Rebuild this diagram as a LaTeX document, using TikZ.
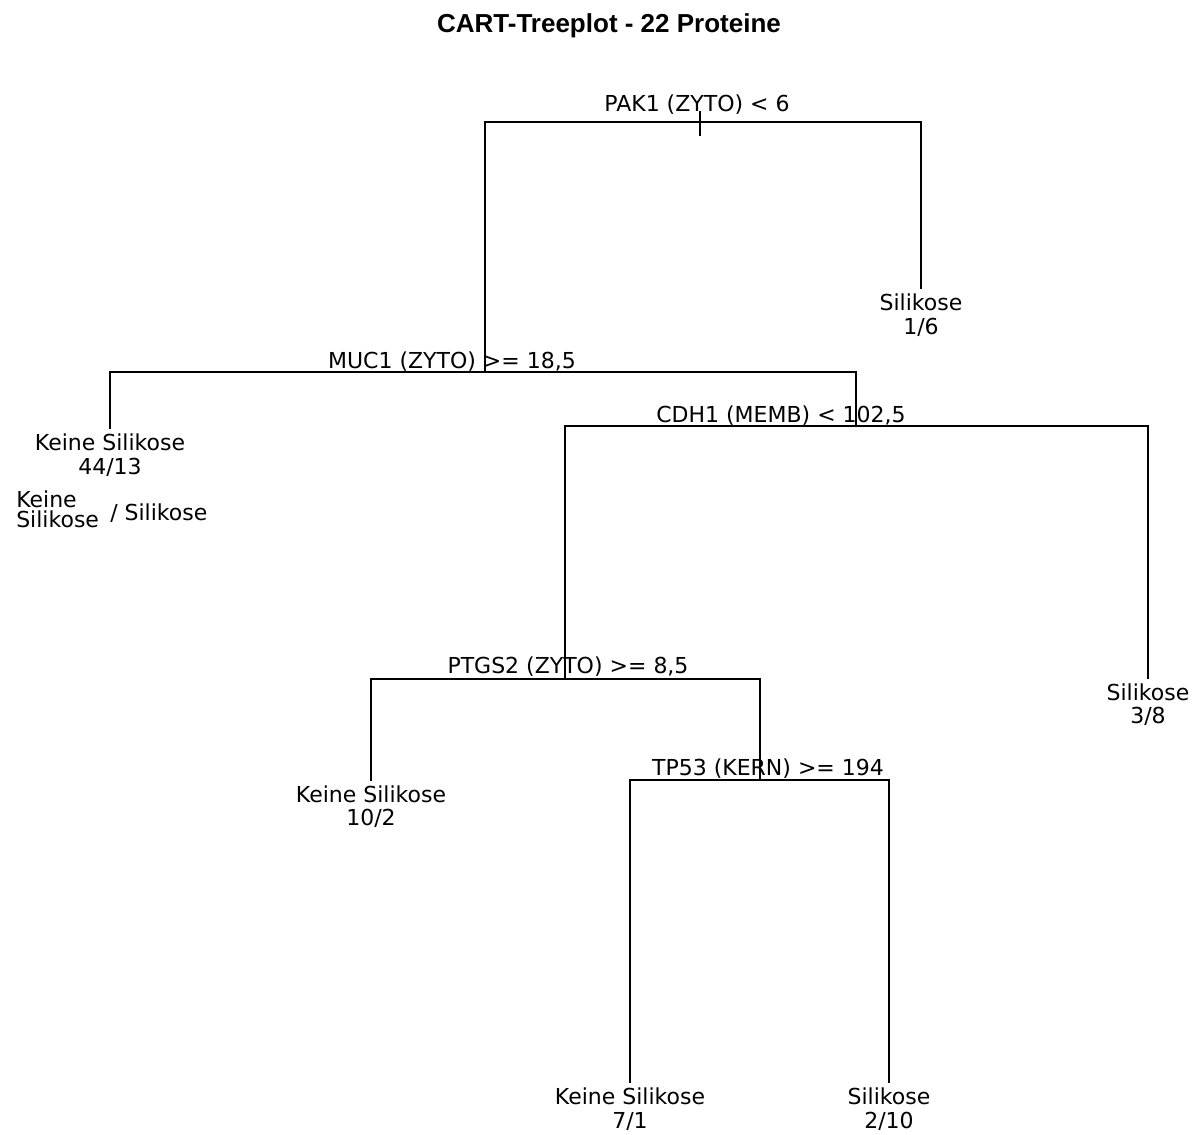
\documentclass[tikz,border=0pt]{standalone}
\usepackage{fontspec}
\newfontfamily\dvfont{DejaVu Sans}
\newfontfamily\libfont{Liberation Sans}
\begin{document}
\begin{tikzpicture}[x=0.75pt,y=-0.75pt,
  txt/.style={font=\dvfont\fontsize{16.5pt}{18pt}\selectfont,inner sep=0pt,anchor=base},
  leaf/.style={txt,outer sep=4pt},
  branch/.style={line width=1.4pt,line cap=rect},
  titlestyle/.style={font=\libfont\bfseries\fontsize{19.5pt}{22pt}\selectfont,inner sep=0pt,anchor=base}]
\useasboundingbox[fill=white] (0,0) rectangle (1198,1134);

% title
\node[titlestyle] (title) at (609,33) {CART-Treeplot - 22 Proteine};

% split labels
\node[txt] (pak) at (697,112) {PAK1 (ZYTO) < 6};
\node[txt] (muc) at (452,368) {MUC1 (ZYTO) >= 18,5};
\node[txt] (cdh) at (781,422) {CDH1 (MEMB) < 102,5};
\node[txt] (ptgs) at (568,673) {PTGS2 (ZYTO) >= 8,5};
\node[txt] (tp) at (768,775) {TP53 (KERN) >= 194};

% leaves
\node[leaf] (l1) at (921,310) {Silikose};
\node[txt] (l1n) at (921,334) {1/6};
\node[leaf] (l2) at (110,450) {Keine Silikose};
\node[txt] (l2n) at (110,474) {44/13};
\node[leaf] (l3) at (1148,700) {Silikose};
\node[txt] (l3n) at (1148,723) {3/8};
\node[leaf] (l4) at (371,802) {Keine Silikose};
\node[txt] (l4n) at (371,825) {10/2};
\node[leaf] (l5) at (630,1104) {Keine Silikose};
\node[txt] (l5n) at (630,1128) {7/1};
\node[leaf] (l6) at (889,1104) {Silikose};
\node[txt] (l6n) at (889,1128) {2/10};

% legend
\node[txt,anchor=base west] (lgA) at (16,507) {Keine};
\node[txt,anchor=base west] (lgB) at (16,527) {Silikose};
\node[txt,anchor=base west] (lgC) at (110,520) {/ Silikose};

% junction coordinates
\coordinate (rs1) at (700,112);
\coordinate (rs2) at (700,135);
\coordinate (rL) at (485,122);
\coordinate (rR) at (921,122);
\coordinate (mC) at (485,372);
\coordinate (mL) at (110,372);
\coordinate (mR) at (856,372);
\coordinate (cC) at (856,426);
\coordinate (cL) at (565,426);
\coordinate (cR) at (1148,426);
\coordinate (pC) at (565,679);
\coordinate (pL) at (371,679);
\coordinate (pR) at (760,679);
\coordinate (tC) at (760,780);
\coordinate (tL) at (630,780);
\coordinate (tR) at (889,780);

% tree
\draw[branch] (rs1) -- (rs2);
\draw[branch] (rL) -- (rR);
\draw[branch] (rR) -- (l1.north);
\draw[branch] (rL) -- (mC);
\draw[branch] (mL) -- (mR);
\draw[branch] (mL) -- (l2.north);
\draw[branch] (mR) -- (cC);
\draw[branch] (cL) -- (cR);
\draw[branch] (cR) -- (l3.north);
\draw[branch] (cL) -- (pC);
\draw[branch] (pL) -- (pR);
\draw[branch] (pL) -- (l4.north);
\draw[branch] (pR) -- (tC);
\draw[branch] (tL) -- (tR);
\draw[branch] (tL) -- (l5.north);
\draw[branch] (tR) -- (l6.north);
\end{tikzpicture}
\end{document}
